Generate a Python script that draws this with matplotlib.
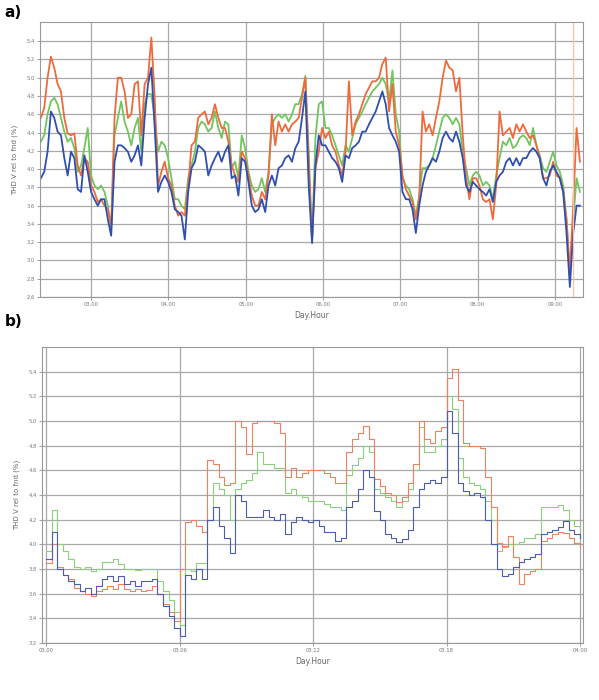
import numpy as np
import matplotlib.pyplot as plt

# ---- panel a: one week, sampled about every hour (times in days) ----
week_t = 2.351 + 0.0433 * np.arange(162)

week_red = [4.56, 4.67, 5.0, 5.23, 5.11, 4.93, 4.85, 4.56, 4.39, 4.37, 4.39, 4.04, 3.93, 4.12, 4.08,
            3.82, 3.75, 3.64, 3.67, 3.6, 3.56, 3.38, 4.56, 5.0, 5.0, 4.85, 4.56, 4.6, 4.93, 4.96,
            4.37, 4.93, 5.0, 5.44, 4.78, 3.82, 3.97, 4.08, 3.9, 3.82, 3.6, 3.49, 3.53, 3.49, 3.82,
            4.26, 4.3, 4.56, 4.6, 4.63, 4.49, 4.56, 4.71, 4.56, 4.45,
            4.45, 4.3, 4.04, 3.93, 3.86, 4.19, 4.12, 3.93, 3.71, 3.6, 3.6, 3.75, 3.67, 3.93, 4.6,
            4.26, 4.52, 4.41, 4.49, 4.41, 4.49, 4.52, 4.56, 4.78, 5.0, 4.08, 3.21, 4.01, 4.19, 4.45,
            4.34, 4.41, 4.26, 4.19, 4.04, 3.93, 4.19, 4.96, 4.37, 4.52, 4.6, 4.71, 4.82, 4.89, 4.96,
            4.96, 5.0, 5.15, 5.22, 4.63, 4.93, 4.41, 4.26, 3.93, 3.78,
            3.71, 3.64, 3.45, 3.67, 4.63, 4.41, 4.49, 4.37, 4.56, 4.74, 5.0, 5.19, 5.11, 5.08, 4.85,
            5.0, 4.37, 3.9, 3.67, 3.9, 3.9, 3.82, 3.67, 3.64, 3.67, 3.45, 3.82, 4.63, 4.37, 4.41,
            4.45, 4.34, 4.49, 4.41, 4.49, 4.41, 4.34, 4.37, 4.26, 4.12, 3.9, 3.9, 3.93, 4.08, 3.93,
            3.9, 3.75, 3.45, 2.86, 3.6, 4.45, 4.08]
week_green = [4.3, 4.37, 4.6, 4.74, 4.78, 4.71, 4.56, 4.41, 4.3, 4.34, 4.23, 3.97, 4.04, 4.23, 4.45,
              3.93, 3.82, 3.78, 3.82, 3.75, 3.6, 3.34, 4.37, 4.56, 4.74, 4.52, 4.41, 4.26, 4.45, 4.56,
              4.19, 4.71, 4.82, 4.82, 4.56, 4.19, 4.3, 4.26, 4.12, 3.9, 3.67, 3.67, 3.6, 3.56, 3.9,
              4.04, 4.19, 4.45, 4.52, 4.49, 4.41, 4.45, 4.63, 4.45, 4.34,
              4.52, 4.49, 4.01, 4.08, 3.9, 4.37, 4.23, 3.97, 3.82, 3.75, 3.78, 3.9, 3.75, 3.97, 4.49,
              4.56, 4.6, 4.56, 4.6, 4.52, 4.6, 4.71, 4.71, 4.82, 5.02, 4.19, 3.21, 4.34, 4.71, 4.74,
              4.45, 4.45, 4.37, 4.26, 4.15, 4.04, 4.26, 4.19, 4.34, 4.49, 4.56, 4.63, 4.71, 4.78, 4.85,
              4.89, 4.93, 5.0, 4.93, 4.74, 5.08, 4.6, 4.41, 3.9, 3.82,
              3.78, 3.67, 3.49, 3.71, 4.01, 4.01, 4.04, 4.12, 4.26, 4.41, 4.56, 4.6, 4.56, 4.49, 4.56,
              4.49, 4.19, 4.01, 3.82, 3.93, 3.97, 3.93, 3.82, 3.86, 3.82, 3.67, 3.93, 4.12, 4.3, 4.26,
              4.34, 4.23, 4.26, 4.34, 4.37, 4.34, 4.26, 4.45, 4.26, 4.15, 4.01, 3.97, 4.08, 4.19, 4.04,
              3.97, 3.82, 3.45, 2.86, 3.45, 3.9, 3.75]
week_blue = [3.9, 3.97, 4.19, 4.63, 4.56, 4.41, 4.37, 4.12, 3.93, 4.19, 4.12, 3.78, 3.75, 4.15, 3.97,
             3.75, 3.67, 3.6, 3.67, 3.67, 3.45, 3.27, 4.08, 4.26, 4.26, 4.23, 4.19, 4.08, 4.15, 4.26,
             4.04, 4.56, 4.93, 5.11, 4.45, 3.75, 3.86, 3.93, 3.86, 3.75, 3.56, 3.53, 3.49, 3.23, 3.75,
             4.01, 4.08, 4.26, 4.23, 4.19, 3.93, 4.04, 4.12, 4.19, 4.08,
             4.19, 4.26, 3.9, 3.93, 3.71, 4.12, 4.08, 3.86, 3.6, 3.53, 3.56, 3.67, 3.53, 3.82, 3.93,
             3.82, 4.01, 4.04, 4.12, 4.15, 4.08, 4.23, 4.3, 4.56, 4.85, 3.82, 3.19, 4.04, 4.37, 4.26,
             4.26, 4.19, 4.12, 4.08, 4.01, 3.86, 4.15, 4.12, 4.23, 4.26, 4.3, 4.41, 4.41, 4.49, 4.56,
             4.63, 4.74, 4.85, 4.71, 4.45, 4.37, 4.3, 4.19, 3.75, 3.67,
             3.67, 3.56, 3.3, 3.6, 3.82, 3.97, 4.04, 4.12, 4.08, 4.19, 4.34, 4.41, 4.34, 4.3, 4.41,
             4.3, 4.12, 3.82, 3.75, 3.86, 3.82, 3.78, 3.75, 3.71, 3.78, 3.64, 3.86, 3.93, 3.97, 4.08,
             4.12, 4.04, 4.12, 4.04, 4.12, 4.12, 4.19, 4.23, 4.19, 4.12, 3.9, 3.82, 3.97, 4.04, 3.97,
             3.9, 3.75, 3.3, 2.71, 3.3, 3.6, 3.6]

week_ticks = [3, 4, 5, 6, 7, 8, 9]
week_labels = ['03.00', '04.00', '05.00', '06.00', '07.00', '08.00', '09.00']

# ---- panel b: day 3, 15 minute steps (hours) ----
day_t = np.arange(97) * 0.25

day_red = [3.85, 4.0, 3.82, 3.75, 3.72, 3.65, 3.62, 3.6, 3.58, 3.62, 3.64, 3.66, 3.64, 3.68, 3.64, 3.62,
           3.64, 3.62, 3.63, 3.66, 3.6, 3.52, 3.45, 3.38, 3.8, 4.18, 4.2, 4.15, 4.1, 4.68, 4.65, 4.55,
           4.48, 4.5, 5.0, 4.95, 4.73, 4.98, 5.0, 5.0, 5.0, 4.98, 4.9, 4.55, 4.62, 4.55, 4.58, 4.6,
           4.6, 4.6, 4.58, 4.55, 4.5, 4.5, 4.75, 4.85, 4.9, 4.96, 4.85, 4.53, 4.47, 4.42, 4.4, 4.34,
           4.38, 4.5, 4.65, 5.0, 4.85, 4.82, 4.92, 4.95, 5.35, 5.42, 5.17, 4.82, 4.8, 4.8, 4.78, 4.55,
           4.3, 4.01, 3.99, 4.07, 3.9, 3.68, 3.76, 3.78, 3.8, 4.03, 4.05, 4.08, 4.1, 4.09, 4.05, 4.01,
           3.98]
day_green = [3.95, 4.28, 4.0, 3.95, 3.88, 3.82, 3.8, 3.82, 3.78, 3.8, 3.86, 3.86, 3.88, 3.84, 3.8, 3.8,
             3.79, 3.8, 3.8, 3.8, 3.7, 3.62, 3.55, 3.45, 3.35, 3.8, 3.78, 3.85, 3.85, 4.2, 4.5, 4.45,
             4.4, 4.2, 4.45, 4.5, 4.52, 4.58, 4.75, 4.65, 4.65, 4.62, 4.62, 4.42, 4.45, 4.4, 4.38, 4.35,
             4.35, 4.35, 4.33, 4.3, 4.3, 4.28, 4.56, 4.64, 4.7, 4.8, 4.75, 4.45, 4.42, 4.38, 4.35, 4.3,
             4.35, 4.45, 4.6, 4.95, 4.75, 4.75, 4.8, 4.85, 5.2, 5.1, 4.7, 4.55, 4.5, 4.48, 4.45, 4.35,
             4.2, 3.95, 3.98, 4.0, 4.0, 4.02, 4.05, 4.05, 4.08, 4.3, 4.3, 4.3, 4.32, 4.28, 4.2, 4.15,
             4.12]
day_blue = [3.88, 4.1, 3.8, 3.75, 3.7, 3.68, 3.62, 3.65, 3.6, 3.66, 3.72, 3.74, 3.7, 3.74, 3.68, 3.7,
            3.66, 3.7, 3.7, 3.72, 3.6, 3.5, 3.42, 3.32, 3.26, 3.75, 3.72, 3.8, 3.72, 4.2, 4.3, 4.15,
            4.05, 3.93, 4.4, 4.35, 4.22, 4.22, 4.22, 4.28, 4.22, 4.2, 4.25, 4.08, 4.18, 4.22, 4.2, 4.18,
            4.2, 4.15, 4.1, 4.1, 4.03, 4.05, 4.3, 4.35, 4.45, 4.6, 4.55, 4.27, 4.2, 4.08, 4.05, 4.02,
            4.04, 4.12, 4.3, 4.45, 4.5, 4.52, 4.5, 4.55, 5.08, 4.9, 4.5, 4.43, 4.4, 4.42, 4.38, 4.2,
            4.0, 3.8, 3.74, 3.76, 3.82, 3.86, 3.88, 3.9, 3.92, 4.08, 4.1, 4.12, 4.14, 4.19, 4.12, 4.08,
            4.05]

day_ticks = [0, 6, 12, 18, 24]
day_labels = ['03.00', '03.06', '03.12', '03.18', '04.00']

RED = '#ee6a3c'
GREEN = '#72c45e'
BLUE = '#2f4fb0'
GRID = '#a8a8a8'
ylabel = 'THD V rel to fnd (%)'

fig = plt.figure(figsize=(5.99, 7.0), dpi=100)
ax_a = fig.add_axes([0.0668, 0.5757, 0.9062, 0.3929])
ax_b = fig.add_axes([0.0701, 0.0814, 0.9029, 0.4229])

# panel a
ax_a.plot(week_t, week_green, color=GREEN, lw=1.3)
ax_a.plot(week_t, week_red, color=RED, lw=1.3)
ax_a.plot(week_t, week_blue, color=BLUE, lw=1.3)
ax_a.axvline(9.23, color='#f6c2a8', lw=0.9)
ax_a.set_xlim(2.34, 9.36)
ax_a.set_ylim(2.6, 5.61)
ax_a.set_yticks(np.arange(2.6, 5.41, 0.2))
ax_a.set_xticks(week_ticks)
ax_a.set_xticklabels(week_labels)

# panel b
ax_b.step(day_t, day_green, where='post', color='#8ccf7c', lw=0.8)
ax_b.step(day_t, day_red, where='post', color='#f0805e', lw=0.8)
ax_b.step(day_t, day_blue, where='post', color='#4c5cb0', lw=0.8)
ax_b.set_xlim(-0.19, 24.13)
ax_b.set_ylim(3.2, 5.6)
ax_b.set_yticks(np.arange(3.2, 5.41, 0.2))
ax_b.set_xticks(day_ticks)
ax_b.set_xticklabels(day_labels)

for ax in (ax_a, ax_b):
    ax.grid(True, color=GRID, lw=0.9)
    ax.set_axisbelow(True)
    ax.yaxis.set_major_formatter(plt.FormatStrFormatter('%.1f'))
    ax.tick_params(labelsize=3.8, colors='#777777', length=2, width=0.5, pad=1.5)
    for s in ax.spines.values():
        s.set_color('#999999')
        s.set_linewidth(0.8)
    ax.set_xlabel('Day.Hour', fontsize=5.5, color='#666666', labelpad=3)
    ax.set_ylabel(ylabel, fontsize=5, color='#666666', labelpad=6)

fig.text(0.008, 0.982, 'a)', fontsize=11, fontweight='bold', va='center')
fig.text(0.008, 0.540, 'b)', fontsize=11, fontweight='bold', va='center')

fig.savefig('out.png', dpi=100)
